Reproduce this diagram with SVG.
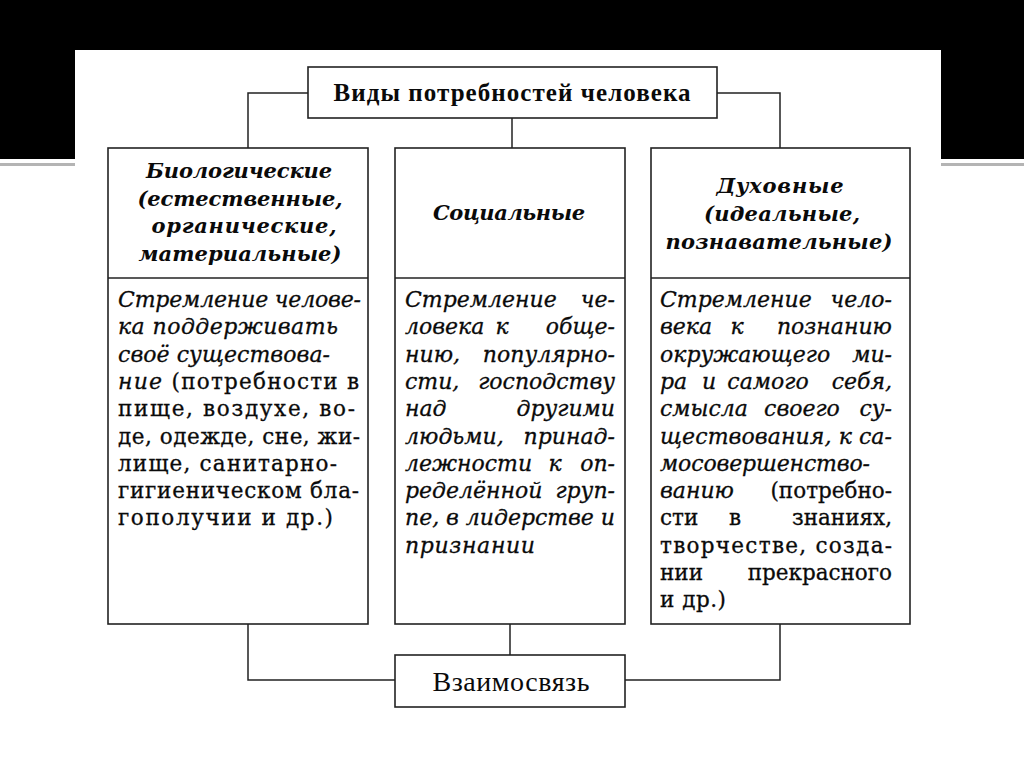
<svg xmlns="http://www.w3.org/2000/svg" width="1024" height="767" viewBox="0 0 1024 767">
<style>
.box{fill:#fff;stroke:#222;stroke-width:1.6}
.div{stroke:#222;stroke-width:1.6}
.conn{fill:none;stroke:#222;stroke-width:1.5}
.ti{font-family:'DejaVu Serif',serif;font-style:italic;font-size:22px;fill:#0a0a0a;stroke:#0a0a0a;stroke-width:0.3}
.tu{font-family:'DejaVu Serif',serif;font-size:21.5px;fill:#0a0a0a;stroke:#0a0a0a;stroke-width:0.3}
.up{font-style:normal;font-size:21.5px}
.hd{font-family:'DejaVu Serif',serif;font-style:italic;font-weight:bold;font-size:21px;fill:#0a0a0a;text-anchor:middle}
.tt{font-family:'Liberation Serif',serif;font-weight:bold;font-size:25px;fill:#0a0a0a;text-anchor:middle}
.bt{font-family:'Liberation Serif',serif;font-size:28px;fill:#0a0a0a;text-anchor:middle}
.e{text-anchor:end}
.m{text-anchor:middle}
</style>
<rect width="1024" height="767" fill="#fff"/>
<rect x="0" y="0" width="1024" height="159" fill="#000"/>
<rect x="0" y="163" width="1024" height="3" fill="#b4b4b4"/>
<rect x="75" y="50" width="866" height="717" fill="#fff"/>

<g id="connectors">
<path class="conn" d="M308,93 H248 V148"/>
<path class="conn" d="M717,93 H780 V148"/>
<path class="conn" d="M512,118 V148"/>
<path class="conn" d="M248,624 V680 H395"/>
<path class="conn" d="M510,624 V655"/>
<path class="conn" d="M780,624 V680 H625"/>
</g>

<g id="title">
<rect class="box" x="308" y="67" width="409" height="51"/>
<text class="tt" x="512" y="101" textLength="357" lengthAdjust="spacing">Виды потребностей человека</text>
</g>

<g id="biological">
<rect class="box" x="108" y="148" width="260" height="476"/>
<line class="div" x1="108" y1="278" x2="368" y2="278"/>
<text class="hd" x="239" y="178" textLength="186" lengthAdjust="spacing">Биологические</text>
<text class="hd" x="240" y="206" textLength="205" lengthAdjust="spacing">(естественные,</text>
<text class="hd" x="244" y="233" textLength="185" lengthAdjust="spacing">органические,</text>
<text class="hd" x="240" y="261" textLength="203" lengthAdjust="spacing">материальные)</text>
<text class="ti" x="118" y="307" textLength="243" lengthAdjust="spacing">Стремление челове-</text>
<text class="ti" x="118" y="334" textLength="220" lengthAdjust="spacing">ка поддерживать</text>
<text class="ti" x="118" y="362" textLength="212" lengthAdjust="spacing">своё существова-</text>
<text class="ti" x="118" y="389" textLength="241" lengthAdjust="spacing">ние <tspan class="up">(потребности в</tspan></text>
<text class="tu" x="118" y="416" textLength="237" lengthAdjust="spacing">пище, воздухе, во-</text>
<text class="tu" x="118" y="444" textLength="242" lengthAdjust="spacing">де, одежде, сне, жи-</text>
<text class="tu" x="118" y="471" textLength="219" lengthAdjust="spacing">лище, санитарно-</text>
<text class="tu" x="118" y="498" textLength="241" lengthAdjust="spacing">гигиеническом бла-</text>
<text class="tu" x="118" y="525" textLength="215" lengthAdjust="spacing">гополучии и др.)</text>
</g>

<g id="social">
<rect class="box" x="395" y="148" width="230" height="476"/>
<line class="div" x1="395" y1="278" x2="625" y2="278"/>
<text class="hd" x="509" y="220" textLength="152" lengthAdjust="spacing">Социальные</text>
<text class="ti" x="405" y="307">Стремление</text><text class="ti e" x="615" y="307">че-</text>
<text class="ti" x="405" y="334">ловека</text><text class="ti m" x="502" y="334">к</text><text class="ti e" x="615" y="334">обще-</text>
<text class="ti" x="405" y="362">нию,</text><text class="ti e" x="615" y="362">популярно-</text>
<text class="ti" x="405" y="389">сти,</text><text class="ti e" x="615" y="389">господству</text>
<text class="ti" x="405" y="416">над</text><text class="ti e" x="615" y="416">другими</text>
<text class="ti" x="405" y="444">людьми,</text><text class="ti e" x="615" y="444">принад-</text>
<text class="ti" x="405" y="471">лежности</text><text class="ti m" x="555" y="471">к</text><text class="ti e" x="615" y="471">оп-</text>
<text class="ti" x="405" y="498">ределённой</text><text class="ti e" x="615" y="498">груп-</text>
<text class="ti" x="405" y="525" textLength="210" lengthAdjust="spacing">пе, в лидерстве и</text>
<text class="ti" x="405" y="553" textLength="130" lengthAdjust="spacing">признании</text>
</g>

<g id="spiritual">
<rect class="box" x="651" y="148" width="259" height="476"/>
<line class="div" x1="651" y1="278" x2="910" y2="278"/>
<text class="hd" x="780" y="193" textLength="127" lengthAdjust="spacing">Духовные</text>
<text class="hd" x="782" y="221" textLength="156" lengthAdjust="spacing">(идеальные,</text>
<text class="hd" x="779" y="249" textLength="227" lengthAdjust="spacing">познавательные)</text>
<text class="ti" x="660" y="307">Стремление</text><text class="ti e" x="892" y="307">чело-</text>
<text class="ti" x="660" y="334">века</text><text class="ti m" x="737" y="334">к</text><text class="ti e" x="892" y="334">познанию</text>
<text class="ti" x="660" y="362">окружающего</text><text class="ti e" x="892" y="362">ми-</text>
<text class="ti" x="660" y="389">ра</text><text class="ti m" x="709" y="389">и</text><text class="ti m" x="768" y="389">самого</text><text class="ti e" x="892" y="389">себя,</text>
<text class="ti" x="660" y="416">смысла</text><text class="ti m" x="802" y="416">своего</text><text class="ti e" x="892" y="416">су-</text>
<text class="ti" x="660" y="444" textLength="232" lengthAdjust="spacing">ществования, к са-</text>
<text class="ti" x="660" y="471" textLength="210" lengthAdjust="spacing">мосовершенство-</text>
<text class="ti" x="660" y="498">ванию</text><text class="tu e" x="892" y="498">(потребно-</text>
<text class="tu" x="660" y="525">сти</text><text class="tu m" x="735" y="525">в</text><text class="tu e" x="892" y="525">знаниях,</text>
<text class="tu" x="660" y="553" textLength="232" lengthAdjust="spacing">творчестве, созда-</text>
<text class="tu" x="660" y="580">нии</text><text class="tu e" x="892" y="580">прекрасного</text>
<text class="tu" x="660" y="607" textLength="66" lengthAdjust="spacing">и др.)</text>
</g>

<g id="interrelation">
<rect class="box" x="395" y="655" width="230" height="52"/>
<text class="bt" x="511" y="691" textLength="157" lengthAdjust="spacing">Взаимосвязь</text>
</g>
</svg>
